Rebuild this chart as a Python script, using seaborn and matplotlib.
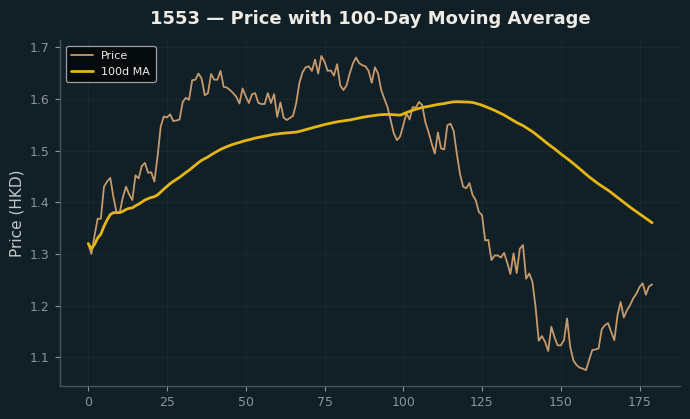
import numpy as np
import pandas as pd
import matplotlib
matplotlib.use("Agg")
import matplotlib.pyplot as plt
import seaborn as sns

# ---- data ----
price = [
    1.320, 1.300, 1.335, 1.368, 1.368, 1.430, 1.440, 1.447, 1.410, 1.380,
    1.380, 1.410, 1.430, 1.415, 1.404, 1.452, 1.446, 1.470, 1.476, 1.457,
    1.458, 1.440, 1.488, 1.546, 1.566, 1.564, 1.570, 1.557, 1.558, 1.560,
    1.594, 1.602, 1.598, 1.636, 1.637, 1.649, 1.639, 1.607, 1.611, 1.648,
    1.637, 1.637, 1.654, 1.623, 1.622, 1.617, 1.611, 1.604, 1.591, 1.620,
    1.605, 1.592, 1.609, 1.611, 1.592, 1.590, 1.590, 1.611, 1.592, 1.609,
    1.565, 1.593, 1.564, 1.559, 1.563, 1.567, 1.591, 1.630, 1.651, 1.661,
    1.663, 1.654, 1.676, 1.649, 1.683, 1.672, 1.654, 1.655, 1.645, 1.667,
    1.626, 1.617, 1.626, 1.649, 1.668, 1.680, 1.669, 1.665, 1.663, 1.654,
    1.631, 1.661, 1.649, 1.617, 1.600, 1.584, 1.559, 1.533, 1.520, 1.527,
    1.549, 1.572, 1.560, 1.584, 1.583, 1.594, 1.588, 1.555, 1.536, 1.514,
    1.494, 1.535, 1.504, 1.502, 1.549, 1.552, 1.538, 1.494, 1.455, 1.430,
    1.427, 1.437, 1.414, 1.404, 1.381, 1.375, 1.326, 1.327, 1.288, 1.297,
    1.297, 1.293, 1.302, 1.283, 1.261, 1.301, 1.263, 1.310, 1.317, 1.252,
    1.262, 1.246, 1.197, 1.132, 1.141, 1.130, 1.112, 1.159, 1.139, 1.123,
    1.123, 1.133, 1.175, 1.120, 1.094, 1.085, 1.080, 1.078, 1.075, 1.095,
    1.114, 1.115, 1.117, 1.154, 1.162, 1.166, 1.149, 1.133, 1.181, 1.207,
    1.177, 1.191, 1.201, 1.214, 1.223, 1.236, 1.243, 1.221, 1.237, 1.241,
]
ma_window = 100
title = "1553 \u2014 Price with 100-Day Moving Average"
ylabel = "Price (HKD)"
series_labels = ["Price", "100d MA"]

day = np.arange(len(price))
df = pd.DataFrame({"day": day, "price": price})
df["ma"] = df["price"].rolling(ma_window, min_periods=1).mean()

# ---- style ----
BG = "#111f26"
sns.set_theme(style="dark", rc={
    "figure.facecolor": BG,
    "axes.facecolor": BG,
    "axes.edgecolor": "#4a5458",
    "axes.grid": True,
    "grid.color": "#19282f",
    "grid.linewidth": 0.8,
    "xtick.color": "#8b9599",
    "ytick.color": "#8b9599",
    "xtick.bottom": True,
    "ytick.left": True,
    "text.color": "#eeeae4",
    "axes.labelcolor": "#c2c8cb",
})
plt.rcParams["font.family"] = ["DejaVu Sans"]

fig, ax = plt.subplots(figsize=(6.9, 4.19), dpi=100)
fig.subplots_adjust(left=0.087, right=0.986, top=0.904, bottom=0.079)

sns.lineplot(data=df, x="day", y="price", ax=ax, color="#c69a6c",
             linewidth=1.3, label=series_labels[0])
sns.lineplot(data=df, x="day", y="ma", ax=ax, color="#e3b616",
             linewidth=2.0, label=series_labels[1])

sns.despine(ax=ax)
for s in ("left", "bottom"):
    ax.spines[s].set_color("#4a5458")
    ax.spines[s].set_linewidth(1.0)

ax.set_yticks([1.1, 1.2, 1.3, 1.4, 1.5, 1.6, 1.7])
ax.set_xticks([0, 25, 50, 75, 100, 125, 150, 175])
ax.tick_params(axis="both", labelsize=9, length=3.5, width=0.8,
               color="#8b9599", pad=4)
ax.set_xlabel("")
ax.set_ylabel(ylabel, fontsize=11, labelpad=4)
ax.set_title(title, fontsize=13, fontweight="bold", color="#eeeae4", pad=12)

leg = ax.legend(loc="upper left", fontsize=8, frameon=True,
                facecolor="#050a0c", edgecolor="#9aa0a3", framealpha=1.0,
                borderpad=0.5, handlelength=2.0, handletextpad=0.7)
for t in leg.get_texts():
    t.set_color("#eeeae4")
leg.get_frame().set_linewidth(0.9)

fig.savefig("out.png", dpi=100, facecolor=BG)
